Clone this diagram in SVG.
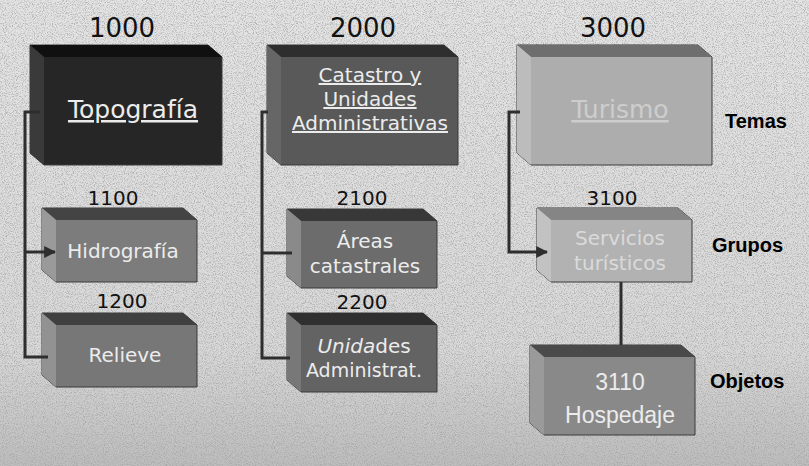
<svg xmlns="http://www.w3.org/2000/svg" width="809" height="466" viewBox="0 0 809 466">
<style>
.num{font-family:"DejaVu Sans",Verdana,sans-serif;fill:#111;text-anchor:middle}
.lbl{font-family:"DejaVu Sans",Verdana,sans-serif;fill:#ececec;text-anchor:middle}
.lvl{font-family:"Liberation Sans",Arial,sans-serif;font-weight:bold;font-size:20px;fill:#000}
.con{fill:none;stroke:#2e2e2e;stroke-width:3}
.edge{stroke:#3a3a3a;stroke-width:1}
</style>
<defs>
<linearGradient id="bg" x1="0" y1="0" x2="0" y2="1">
<stop offset="0" stop-color="#e4e4e4"/>
<stop offset="0.75" stop-color="#d8d8d8"/>
<stop offset="1" stop-color="#bdbdbd"/>
</linearGradient>
<filter id="noise" x="0" y="0" width="100%" height="100%">
<feTurbulence type="fractalNoise" baseFrequency="0.9" numOctaves="3" seed="7"/>
<feColorMatrix type="matrix" values="0 0 0 0 0.35  0 0 0 0 0.35  0 0 0 0 0.35  3.2 0 0 0 -1.45"/>
</filter>
<marker id="arr" viewBox="0 0 10 10" refX="9" refY="5" markerWidth="4" markerHeight="4" orient="auto">
<path d="M0 0 L10 5 L0 10 Z" fill="#2e2e2e"/>
</marker>
</defs>
<rect width="809" height="466" fill="url(#bg)"/>
<rect width="809" height="466" filter="url(#noise)" opacity="0.7"/>

<g id="n1000">
<path class="edge" d="M30 45 H208 L222 57 V165 H44 L30 153 Z" fill="#262626"/>
<path d="M30 45 H208 L222 57 H44 Z" fill="#101010"/>
<path d="M30 45 L44 57 V165 L30 153 Z" fill="#3a3a3a"/>
<text class="num" x="122" y="37" font-size="26">1000</text>
<text class="lbl" x="133" y="118" font-size="25" text-decoration="underline" fill="#e4e4e4">Topografía</text>
</g>
<g id="n2000">
<path class="edge" d="M267 45 H444 L458 57 V165 H281 L267 153 Z" fill="#595959"/>
<path d="M267 45 H444 L458 57 H281 Z" fill="#2e2e2e"/>
<path d="M267 45 L281 57 V165 L267 153 Z" fill="#666"/>
<text class="num" x="363" y="37" font-size="26">2000</text>
<text class="lbl" x="370" y="82" font-size="20" text-decoration="underline">Catastro y</text>
<text class="lbl" x="370" y="106" font-size="20" text-decoration="underline">Unidades</text>
<text class="lbl" x="370" y="130" font-size="20" text-decoration="underline">Administrativas</text>
</g>
<g id="n3000">
<path class="edge" d="M517 45 H698 L712 57 V165 H531 L517 153 Z" fill="#adadad"/>
<path d="M517 45 H698 L712 57 H531 Z" fill="#6e6e6e"/>
<path d="M517 45 L531 57 V165 L517 153 Z" fill="#bcbcbc"/>
<text class="num" x="613" y="37" font-size="26">3000</text>
<text class="lbl" x="620" y="118" font-size="25" text-decoration="underline" style="fill:#cdcdcd">Turismo</text>
</g>
<text class="lvl" x="725" y="128">Temas</text>

<g id="n1100">
<path class="edge" d="M42 208 H183 L197 220 V282 H56 L42 270 Z" fill="#7c7c7c"/>
<path d="M42 208 H183 L197 220 H56 Z" fill="#444"/>
<path d="M42 208 L56 220 V282 L42 270 Z" fill="#9a9a9a"/>
<text class="num" x="113" y="205" font-size="20">1100</text>
<text class="lbl" x="123" y="258" font-size="20">Hidrografía</text>
</g>
<g id="n1200">
<path class="edge" d="M42 313 H183 L197 325 V387 H56 L42 375 Z" fill="#777"/>
<path d="M42 313 H183 L197 325 H56 Z" fill="#404040"/>
<path d="M42 313 L56 325 V387 L42 375 Z" fill="#929292"/>
<text class="num" x="122" y="308" font-size="20">1200</text>
<text class="lbl" x="125" y="362" font-size="20">Relieve</text>
</g>

<g id="n2100">
<path class="edge" d="M287 209 H423 L437 221 V288 H301 L287 276 Z" fill="#6c6c6c"/>
<path d="M287 209 H423 L437 221 H301 Z" fill="#383838"/>
<path d="M287 209 L301 221 V288 L287 276 Z" fill="#8a8a8a"/>
<text class="num" x="362" y="205" font-size="20">2100</text>
<text class="lbl" x="365" y="248" font-size="20">Áreas</text>
<text class="lbl" x="365" y="273" font-size="20">catastrales</text>
</g>
<g id="n2200">
<path class="edge" d="M287 313 H423 L437 325 V392 H301 L287 380 Z" fill="#636363"/>
<path d="M287 313 H423 L437 325 H301 Z" fill="#303030"/>
<path d="M287 313 L301 325 V392 L287 380 Z" fill="#787878"/>
<text class="num" x="362" y="309" font-size="20">2200</text>
<text class="lbl" x="364" y="353" font-size="20"><tspan font-style="italic">Unida</tspan>des</text>
<text class="lbl" x="364" y="377" font-size="19">Administrat.</text>
</g>

<g id="n3100">
<path class="edge" d="M537 208 H678 L692 220 V282 H551 L537 270 Z" fill="#b2b2b2"/>
<path d="M537 208 H678 L692 220 H551 Z" fill="#858585"/>
<path d="M537 208 L551 220 V282 L537 270 Z" fill="#c2c2c2"/>
<text class="num" x="612" y="205" font-size="20">3100</text>
<text class="lbl" x="620" y="245" font-size="20" style="fill:#dadada">Servicios</text>
<text class="lbl" x="620" y="270" font-size="20" style="fill:#dadada">turísticos</text>
</g>
<text class="lvl" x="712" y="252">Grupos</text>

<g id="n3110">
<path class="edge" d="M530 345 H681 L695 357 V435 H544 L530 423 Z" fill="#898989"/>
<path d="M530 345 H681 L695 357 H544 Z" fill="#4a4a4a"/>
<path d="M530 345 L544 357 V435 L530 423 Z" fill="#9a9a9a"/>
<text class="lbl" x="620" y="390" font-size="23" style="font-family:'Liberation Sans',Arial,sans-serif">3110</text>
<text class="lbl" x="620" y="423" font-size="23" style="font-family:'Liberation Sans',Arial,sans-serif">Hospedaje</text>
</g>
<text class="lvl" x="710" y="388">Objetos</text>

<g id="connectors">
<path class="con" d="M40 112 H25 V357 H48"/>
<path class="con" d="M25 252 H55" marker-end="url(#arr)"/>
<path class="con" d="M268 112 H262 V358 H290"/>
<path class="con" d="M262 253 H292"/>
<path class="con" d="M520 112 H509 V252 H547" marker-end="url(#arr)"/>
<path class="con" d="M621 282 V345"/>
</g>
</svg>
